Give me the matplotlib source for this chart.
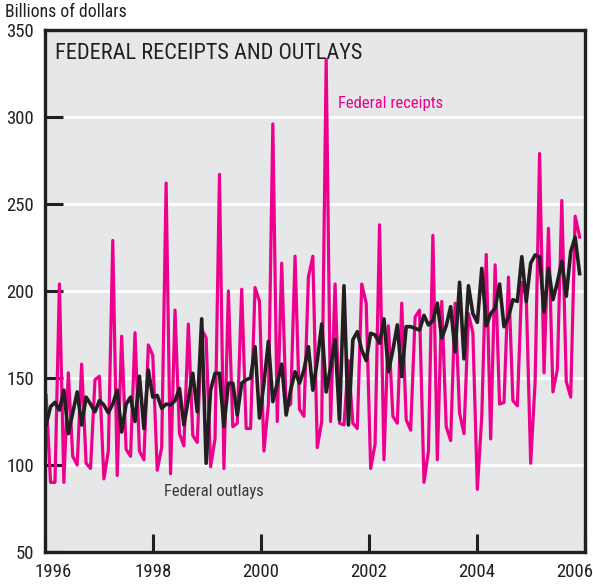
import numpy as np
import matplotlib
matplotlib.use("Agg")
from matplotlib import pyplot as plt
from matplotlib import font_manager
from matplotlib.transforms import ScaledTranslation

# Escolhe uma fonte estreita, se houver alguma instalada
fontes = font_manager.fontManager.ttflist
nomes = {f.name for f in fontes}
familia = None
for cand in ['Roboto Condensed', 'Liberation Sans Narrow', 'Open Sans Condensed',
             'DejaVu Sans Condensed', 'Noto Sans Condensed']:
    if cand in nomes:
        familia = cand
        break
if familia is None:
    if any(f.name == 'DejaVu Sans' and 'Condensed' in f.fname for f in fontes):
        familia = 'DejaVu Sans'
        plt.rcParams['font.stretch'] = 'condensed'
    else:
        familia = 'Roboto'
plt.rcParams['font.family'] = [familia, 'DejaVu Sans']

# Receitas federais mensais (bilhoes de dolares), jan/1996 a jan/2006
receitas = [
    140, 90, 90, 204, 90, 153, 105, 100, 158, 101, 98, 149,      # 1996
    151, 92, 108, 229, 94, 174, 109, 105, 176, 108, 103, 169,    # 1997
    163, 97, 110, 262, 95, 189, 118, 111, 181, 117, 113, 178,    # 1998
    173, 99, 115, 267, 98, 200, 122, 124, 201, 121, 121, 202,    # 1999
    194, 108, 135, 296, 125, 216, 133, 135, 220, 132, 128, 208,  # 2000
    220, 110, 125, 333, 125, 204, 124, 123, 160, 124, 121, 204,  # 2001
    193, 98, 112, 238, 103, 180, 128, 124, 193, 126, 120, 185,   # 2002
    189, 90, 108, 232, 103, 194, 122, 114, 193, 130, 118, 187,   # 2003
    176, 86, 128, 221, 115, 215, 135, 136, 208, 137, 134, 205,   # 2004
    197, 101, 148, 279, 153, 236, 142, 155, 252, 148, 139, 243,  # 2005
    231,                                                         # 2006
]

# Despesas federais mensais (bilhoes de dolares)
despesas = [
    123, 133.5, 136, 131.6, 143, 118, 130, 142, 123, 139, 135, 130.6,
    137, 134.5, 130, 135, 143, 119, 135, 139, 125, 151, 121, 154.6,
    139, 140, 132.6, 135, 134.5, 137, 144, 123, 138, 152.7, 130.6, 184,
    101, 143, 152.7, 152.7, 122, 147, 147, 128.7, 147, 149, 150, 168,
    127, 147, 171, 136.4, 147, 158, 128.7, 143, 153.6, 147, 154.6, 168,
    143, 160, 181, 142, 156.5, 172, 126, 203, 123, 172, 176.6, 166,
    160, 175.7, 174.7, 170, 184, 153.6, 166, 180.5, 150.8, 179.5, 179.5, 178.5,
    177.6, 186, 180.5, 183, 193, 173, 180, 191, 165, 205, 161, 203,
    187, 182, 213, 180, 187, 190, 204, 179.5, 185, 195, 194, 219.7,
    194, 216, 220.7, 219.7, 188, 213, 195, 205, 217, 197, 222.6, 231,
    210,
]

anos_ticks = [1996, 1998, 2000, 2002, 2004, 2006]
valores_ticks = [50, 100, 150, 200, 250, 300, 350]

# pontos mensais espalhados igualmente ao longo do periodo do grafico
t = np.linspace(1996.02, 2005.9, len(receitas))

cor_rec = '#ec008c'
cor_desp = '#231f20'

fig = plt.figure(figsize=(5.93, 5.84), dpi=100)
ax = fig.add_axes([45/593, 32/584, 540/593, 522/584])
ax.set_facecolor('#e6e7e8')

for v in valores_ticks[1:-1]:
    ax.axhline(v, color='white', lw=2, zorder=1)

ax.plot(t, receitas, color=cor_rec, lw=2.3, zorder=2)
ax.plot(t, despesas, color=cor_desp, lw=2.6, zorder=3)

ax.set_xlim(1996, 2006)
ax.set_ylim(50, 350)
ax.set_xticks(anos_ticks)
ax.set_yticks(valores_ticks)
ax.tick_params(axis='both', direction='in', colors=cor_desp, labelcolor='#231f20',
               labelsize=13.5, width=2.2)
ax.tick_params(axis='y', length=13, pad=8)
ax.tick_params(axis='x', length=13, pad=8)

# primeiro e ultimo rotulo do eixo x deslocados para dentro da figura
rot = ax.get_xticklabels()
rot[0].set_transform(rot[0].get_transform() + ScaledTranslation(8/100, 0, fig.dpi_scale_trans))
rot[-1].set_transform(rot[-1].get_transform() + ScaledTranslation(-10/100, 0, fig.dpi_scale_trans))

for s in ax.spines.values():
    s.set_color(cor_desp)
    s.set_linewidth(2.4)

ax.text(0.018, 0.975, "FEDERAL RECEIPTS AND OUTLAYS", transform=ax.transAxes,
        fontsize=16, color='#231f20', va='top', ha='left')
fig.text(5/593, 1 - 12/584, "Billions of dollars", fontsize=12.7, color='#231f20',
         va='center', ha='left')
ax.text(2001.43, 308, "Federal receipts", fontsize=12, color=cor_rec, ha='left', va='center')
ax.text(1998.2, 85, "Federal outlays", fontsize=12, color='#3a3a3a', ha='left', va='center')

fig.savefig("out.png", dpi=100)
